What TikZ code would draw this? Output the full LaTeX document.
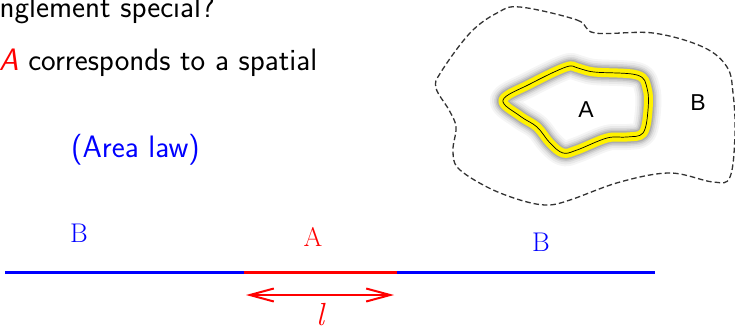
\documentclass[tikz,border=0pt]{standalone}
\usepackage{fontspec}
\newfontfamily\helv{Liberation Sans}
\usetikzlibrary{arrows.meta}
\tikzset{
  sanstext/.style={inner sep=0pt, font=\sffamily\fontsize{31}{36}\selectfont},
  serlabel/.style={inner sep=0pt, font=\rmfamily\fontsize{27}{30}\selectfont},
  figlabel/.style={inner sep=0pt, font=\helv\fontsize{23}{26}\selectfont},
  segline/.style={line width=3pt},
}
\begin{document}
\begin{tikzpicture}[x=1pt,y=-1pt]
\useasboundingbox (0,0) rectangle (735,327);
% text
\node[sanstext, anchor=base east] (t1) at (215,17) {anglement special?};
\node[sanstext, anchor=base west] (t2) at (-1,70) {\textcolor{red}{\textit{A}} corresponds to a spatial};
\node[sanstext, anchor=base west, text=blue] (t3) at (71,157) {(Area law)};
% dashed region B
\draw[gray!40!black, line width=1.3pt, dash pattern=on 5.5pt off 3pt]
  plot[smooth cycle, tension=0.6] coordinates {
  (520,7) (577,20) (595,33) (653,33) (703,47) (727,67) (733,93) (735,133)
  (730,177) (713,182) (670,173) (620,182) (570,200) (547,205) (520,200)
  (487,187) (458,168) (453,150) (456,127) (449,110) (436,88) (441,72)
  (470,33) (497,13)};
% region A with glow
\foreach \w/\o in {26/0.04,22/0.05,18/0.07,15/0.09,12/0.12}{
\draw[black, line width=\w pt, opacity=\o, line join=round]
  plot[smooth cycle, tension=0.6] coordinates {
  (503,100) (530,84) (566,67) (578,68) (594,72) (637,75) (647,88)
  (648,110) (643,133) (627,137) (607,138) (577,150) (563,153) (550,143)
  (537,127) (520,116)};
}
\draw[yellow, line width=9pt, line join=round]
  plot[smooth cycle, tension=0.6] coordinates {
  (503,100) (530,84) (566,67) (578,68) (594,72) (637,75) (647,88)
  (648,110) (643,133) (627,137) (607,138) (577,150) (563,153) (550,143)
  (537,127) (520,116)};
\draw[black, line width=0.7pt]
  plot[smooth cycle, tension=0.6] coordinates {
  (503,100) (530,84) (566,67) (578,68) (594,72) (637,75) (647,88)
  (648,110) (643,133) (627,137) (607,138) (577,150) (563,153) (550,143)
  (537,127) (520,116)};
\node[figlabel] (fa) at (586,110) {A};
\node[figlabel] (fb) at (698,103) {B};
% 1D chain
\coordinate (l0) at (5,272);
\coordinate (l1) at (244,272);
\coordinate (l2) at (397,272);
\coordinate (l3) at (655,272);
\draw[segline, blue] (l0) -- (l1);
\draw[segline, red] (l1) -- (l2);
\draw[segline, blue] (l2) -- (l3);
\node[serlabel, text=blue] (b1) at (79,233) {B};
\node[serlabel, text=red] (a1) at (313,237) {A};
\node[serlabel, text=blue] (b2) at (541,242) {B};
\coordinate (ar0) at (246,295);
\coordinate (ar1) at (394,295);
\draw[red, line width=2pt, {Straight Barb[length=24pt,width=13pt,line width=2pt]}-{Straight Barb[length=24pt,width=13pt,line width=2pt]}] (ar0) -- (ar1);
\node[inner sep=0pt, anchor=base, text=red, font=\rmfamily\itshape\fontsize{32}{36}\selectfont] (ll) at (320,325) {l};
\end{tikzpicture}
\end{document}
